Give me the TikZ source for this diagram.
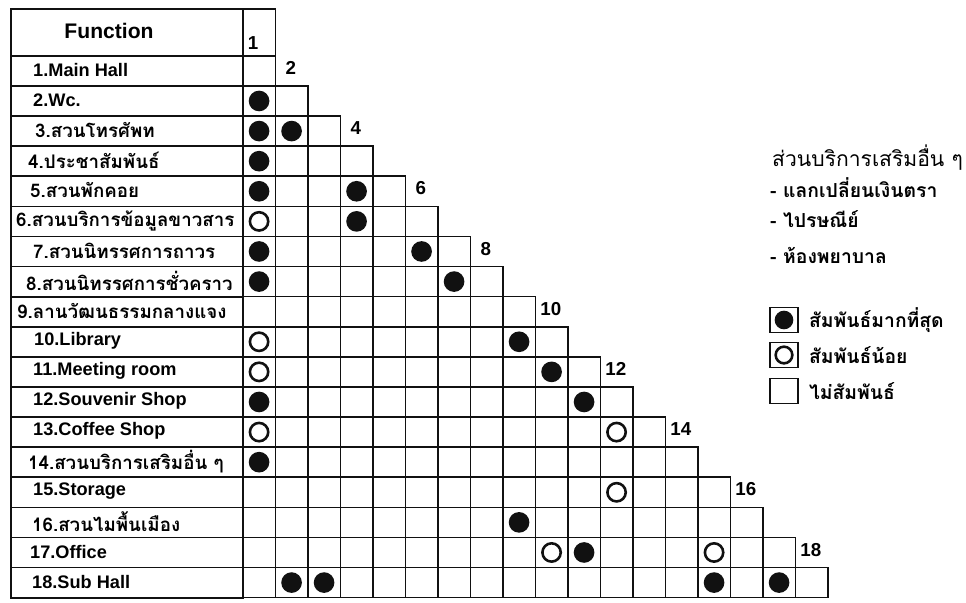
\documentclass[tikz,border=0pt]{standalone}
\usepackage{fontspec}
\setmainfont{Liberation Sans}
\newfontfamily\thaifont[Script=Thai]{Loma}
\usetikzlibrary{positioning}
\definecolor{INK}{HTML}{111111}

\begin{document}
\begin{tikzpicture}[
    x=0.03cm, y=-0.03cm,
    cell/.style={draw=INK, line width=1.4pt, minimum width=0.975cm, minimum height=0.903cm, inner sep=0pt, anchor=north west},
    fnrow/.style={draw=INK, line width=1.5pt, minimum width=6.96cm, minimum height=0.903cm, inner sep=0pt, anchor=north west},
    hi/.style={circle, fill=INK, minimum size=0.62cm, inner sep=0pt},
    lo/.style={circle, draw=INK, line width=2.2pt, minimum size=0.55cm, inner sep=0pt},
    fn/.style={anchor=west, inner sep=0pt, font=\fontsize{15.5}{18}\selectfont\bfseries},
    fnth/.style={anchor=west, inner sep=0pt, font=\thaifont\fontsize{16}{19}\selectfont\bfseries},
    colnum/.style={inner sep=0pt, font=\fontsize{16}{19}\selectfont\bfseries},
    note/.style={anchor=west, inner sep=0pt, font=\thaifont\fontsize{18}{21}\selectfont},
    notebf/.style={anchor=west, inner sep=0pt, font=\thaifont\fontsize{16.5}{20}\selectfont\bfseries},
    key/.style={draw=INK, line width=1.5pt, minimum width=0.84cm, minimum height=0.75cm, inner sep=0pt},
  ]
  \useasboundingbox (0,0) rectangle (966,602);

  % header
  \node[draw=INK, line width=1.5pt, minimum width=6.96cm, minimum height=1.41cm, inner sep=0pt, anchor=north west] (head) at (10,8) {};
  \node[font=\fontsize{18}{21}\selectfont\bfseries] (headtxt) at (109,31) {Function};
  \node[draw=INK, line width=1.5pt, minimum width=0.975cm, minimum height=1.41cm, inner sep=0pt, anchor=north west] (head1) at (242,8) {};
  \node[colnum] (n1) at (253,43) {1};

  % function rows
  \foreach \r/\x/\s/\t in {
      1/33/fn/{1.Main Hall},
      2/33/fn/{2.Wc.},
      3/35/fnth/{3.สวนโทรศัพท},
      4/28/fnth/{4.ประชาสัมพันธ์},
      5/30/fnth/{5.สวนพักคอย},
      6/16/fnth/{6.สวนบริการข้อมูลขาวสาร},
      7/33/fnth/{7.สวนนิทรรศการถาวร},
      8/26/fnth/{8.สวนนิทรรศการชั่วคราว},
      9/17/fnth/{9.ลานวัฒนธรรมกลางแจง},
      10/34/fn/{10.Library},
      11/33/fn/{11.Meeting room},
      12/33/fn/{12.Souvenir Shop},
      13/33/fn/{13.Coffee Shop},
      14/28/fnth/{14.สวนบริการเสริมอื่น ๆ},
      15/33/fn/{15.Storage},
      16/32/fnth/{16.สวนไมพื้นเมือง},
      17/30/fn/{17.Office},
      18/32/fn/{18.Sub Hall}} {
    \node[fnrow] (row\r) at (10,{55+(\r-1)*30.1}) {};
    \node[\s] (f\r) at (\x,{55+(\r-0.5)*30.1}) {\t};
  }

  % triangular grid
  \foreach \r in {1,...,18} {
    \foreach \c in {1,...,\r} {
      \node[cell] (c\r-\c) at ({242+(\c-1)*32.5},{55+(\r-1)*30.1}) {};
    }
  }

  % column numbers
  \foreach \j in {2,4,...,18} {
    \node[colnum] (n\j) at ({242+(\j-0.5)*32.5},{55+(\j-1.5)*30.1-2}) {\j};
  }

  % relations
  \foreach \r/\c in {2/1,3/1,3/2,4/1,5/1,5/4,6/4,7/1,7/6,8/1,8/7,10/9,11/10,12/1,12/11,14/1,16/9,17/11,18/2,18/3,18/15,18/17} {
    \node[hi] at (c\r-\c.center) {};
  }
  \foreach \r/\c in {6/1,10/1,11/1,13/1,13/12,15/12,17/10,17/15} {
    \node[lo] at (c\r-\c.center) {};
  }

  % other services
  \node[note] (svc) at (772,158) {ส่วนบริการเสริมอื่น ๆ};
  \node[notebf] (svc1) at (770,188) {- แลกเปลี่ยนเงินตรา};
  \node[notebf] (svc2) at (770,219) {- ไปรษณีย์};
  \node[notebf] (svc3) at (770,255) {- ห้องพยาบาล};

  % legend
  \node[key] (k1) at (784,320) {};
  \node[hi, minimum size=0.56cm] at (k1.center) {};
  \node[notebf, right=0.3cm of k1] (k1txt) {สัมพันธ์มากที่สุด};
  \node[key] (k2) at (784,355) {};
  \node[lo, minimum size=0.5cm] at (k2.center) {};
  \node[notebf, right=0.3cm of k2] (k2txt) {สัมพันธ์น้อย};
  \node[key] (k3) at (784,391) {};
  \node[notebf, right=0.3cm of k3] (k3txt) {ไม่สัมพันธ์};

\end{tikzpicture}
\end{document}
